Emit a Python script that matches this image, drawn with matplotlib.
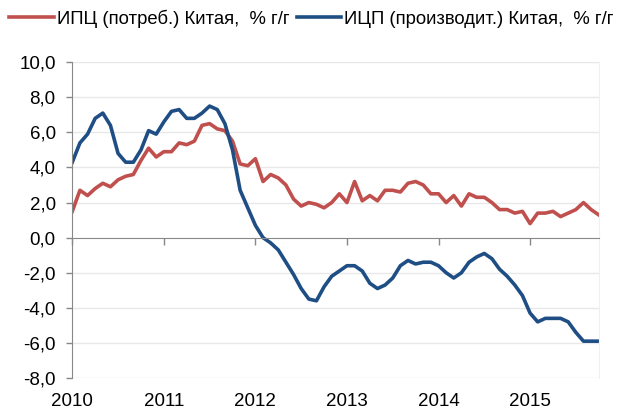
import matplotlib.pyplot as plt
import numpy as np

plt.rcParams['font.family'] = ['Liberation Sans', 'DejaVu Sans']

# monthly, Jan 2010 - Oct 2015
cpi = [1.5, 2.7, 2.4, 2.8, 3.1, 2.9, 3.3, 3.5, 3.6, 4.4, 5.1, 4.6,
       4.9, 4.9, 5.4, 5.3, 5.5, 6.4, 6.5, 6.2, 6.1, 5.5, 4.2, 4.1,
       4.5, 3.2, 3.6, 3.4, 3.0, 2.2, 1.8, 2.0, 1.9, 1.7, 2.0, 2.5,
       2.0, 3.2, 2.1, 2.4, 2.1, 2.7, 2.7, 2.6, 3.1, 3.2, 3.0, 2.5,
       2.5, 2.0, 2.4, 1.8, 2.5, 2.3, 2.3, 2.0, 1.6, 1.6, 1.4, 1.5,
       0.8, 1.4, 1.4, 1.5, 1.2, 1.4, 1.6, 2.0, 1.6, 1.3]
ppi = [4.3, 5.4, 5.9, 6.8, 7.1, 6.4, 4.8, 4.3, 4.3, 5.0, 6.1, 5.9,
       6.6, 7.2, 7.3, 6.8, 6.8, 7.1, 7.5, 7.3, 6.5, 5.0, 2.7, 1.7,
       0.7, 0.0, -0.3, -0.7, -1.4, -2.1, -2.9, -3.5, -3.6, -2.8, -2.2, -1.9,
       -1.6, -1.6, -1.9, -2.6, -2.9, -2.7, -2.3, -1.6, -1.3, -1.5, -1.4, -1.4,
       -1.6, -2.0, -2.3, -2.0, -1.4, -1.1, -0.9, -1.2, -1.8, -2.2, -2.7, -3.3,
       -4.3, -4.8, -4.6, -4.6, -4.6, -4.8, -5.4, -5.9, -5.9, -5.9]
years = ['2010', '2011', '2012', '2013', '2014', '2015']
cpi_label = 'ИПЦ (потреб.) Китая,  % г/г'
ppi_label = 'ИЦП (производит.) Китая,  % г/г'

months = np.arange(len(cpi))
year_pos = np.arange(len(years)) * 12

fig = plt.figure(figsize=(6.2, 4.12), dpi=100)
ax = fig.add_axes([0.1166, 0.0825, 0.8491, 0.7665])

ax.plot(months, cpi, color='#C0504D', lw=2.6, label=cpi_label, solid_joinstyle='round')
ax.plot(months, ppi, color='#1F4E85', lw=2.6, label=ppi_label, solid_joinstyle='round')

ax.set_xlim(0, len(cpi) - 1)
ax.set_ylim(-8, 10)
yt = np.arange(-8, 11, 2)
ax.set_yticks(yt)
ax.set_yticklabels([f'{v:.1f}'.replace('.', ',') for v in yt], fontsize=13.5)
ax.tick_params(axis='y', direction='out', length=4, width=1, color='#888888', pad=8)
for v in yt:
    if v != 0:
        ax.axhline(v, color='#E8E8E8', lw=1, zorder=0)

# zero axis with year ticks
ax.spines['bottom'].set_position(('data', 0))
ax.spines['bottom'].set_color('#888888')
ax.set_xticks(year_pos)
ax.tick_params(axis='x', direction='out', length=5, width=1, color='#888888', labelbottom=False)
ax.spines['left'].set_color('#888888')
ax.spines['top'].set_visible(False)
ax.spines['right'].set_color('#F0F0F0')

sec = ax.secondary_xaxis('bottom')
sec.set_xticks(year_pos)
sec.set_xticklabels(years, fontsize=13.5)
sec.tick_params(length=0, pad=11)
sec.spines['bottom'].set_visible(False)

fig.legend(loc='upper left', bbox_to_anchor=(0.0, 1.0), ncol=2, frameon=False,
           fontsize=13.3, handlelength=2.4, handletextpad=0.16, columnspacing=0.43,
           borderaxespad=0.1)

fig.savefig('out.png', dpi=100)
